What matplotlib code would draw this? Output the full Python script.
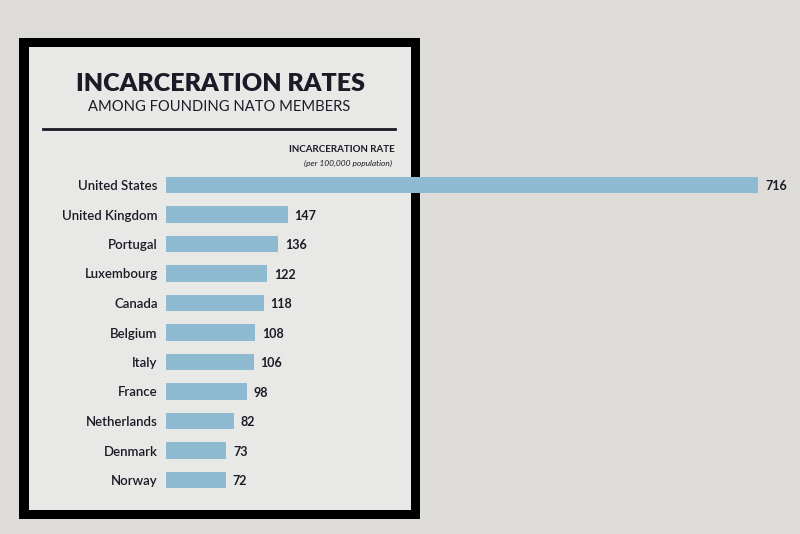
import matplotlib.pyplot as plt
from matplotlib.patches import Rectangle

countries = ["United States", "United Kingdom", "Portugal", "Luxembourg", "Canada",
             "Belgium", "Italy", "France", "Netherlands", "Denmark", "Norway"]
rates = [716, 147, 136, 122, 118, 108, 106, 98, 82, 73, 72]

W, H = 800, 534
bg_out = "#dddcd8"
bg_in = "#e8e8e6"
bar_col = "#8fbbd2"
ink = "#1c1a26"

plt.rcParams["font.family"] = ["Lato", "DejaVu Sans"]

fig = plt.figure(figsize=(8, 5.34), dpi=100, facecolor=bg_out)


def px_rect(x0, y0, x1, y1, **kw):
    # pixel box (top-left origin) -> figure fraction
    return Rectangle((x0 / W, 1 - y1 / H), (x1 - x0) / W, (y1 - y0) / H,
                     transform=fig.transFigure, **kw)


# framed panel
fig.add_artist(px_rect(19, 38, 420, 519, facecolor="black", edgecolor="none", zorder=0))
fig.add_artist(px_rect(29, 47, 411, 510, facecolor=bg_in, edgecolor="none", zorder=0))

# heading
fig.text(220 / W, 1 - 84 / H, "INCARCERATION RATES", ha="center", va="center",
         fontsize=18, fontweight="heavy", color=ink)
fig.text(219 / W, 1 - 107 / H, "AMONG FOUNDING NATO MEMBERS", ha="center", va="center",
         fontsize=10.6, fontweight="normal", color=ink)
fig.add_artist(plt.Line2D([43 / W, 395 / W], [1 - 129 / H, 1 - 129 / H],
                          transform=fig.transFigure, color=ink, lw=2))
fig.text(395 / W, 1 - 150 / H, "INCARCERATION RATE", ha="right", va="center",
         fontsize=7, fontweight="bold", color=ink)
fig.text(392 / W, 1 - 163 / H, "(per 100,000 population)", ha="right", va="center",
         fontsize=6, style="italic", color=ink)

# bars
top, bot = 170.25, 494.75
ax = fig.add_axes([166 / W, 1 - bot / H, (758 - 166) / W, (bot - top) / H])
ax.patch.set_visible(False)
pos = list(range(len(countries)))
ax.barh(pos, rates, height=0.55, color=bar_col)
ax.set_xlim(0, 716)
ax.set_ylim(len(countries) - 0.5, -0.5)
ax.set_yticks(pos, labels=countries)
ax.tick_params(axis="y", length=0, pad=6, labelsize=9.5, labelcolor=ink)
for t in ax.get_yticklabels():
    t.set_fontweight("semibold")
ax.set_xticks([])
for s in ax.spines.values():
    s.set_visible(False)
for p, v in zip(pos, rates):
    ax.annotate(str(v), (v, p), xytext=(5, -1), textcoords="offset points",
                ha="left", va="center", fontsize=9, fontweight="bold", color=ink)

fig.savefig("out.png", dpi=100, facecolor=bg_out)
